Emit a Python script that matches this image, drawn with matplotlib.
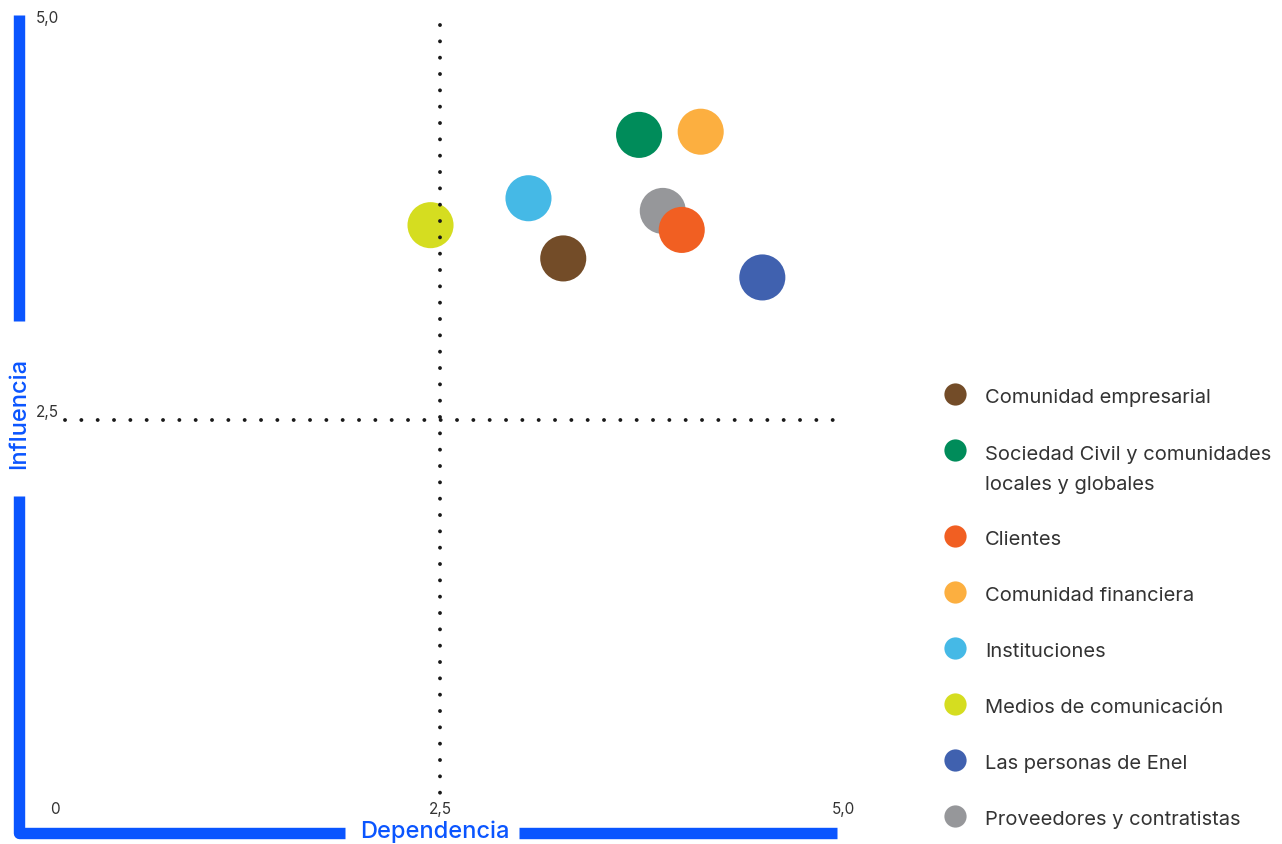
import matplotlib
matplotlib.use("Agg")
import matplotlib.pyplot as plt
import matplotlib.transforms as mtransforms
from matplotlib.lines import Line2D

# ---- data ----
categories = [
    "Comunidad empresarial",
    "Sociedad Civil y comunidades\nlocales y globales",
    "Clientes",
    "Comunidad financiera",
    "Instituciones",
    "Medios de comunicación",
    "Las personas de Enel",
    "Proveedores y contratistas",
]
dependencia = [3.28, 3.76, 4.03, 4.15, 3.06, 2.44, 4.54, 3.91]
influencia = [3.52, 4.30, 3.70, 4.32, 3.90, 3.73, 3.40, 3.82]
colors = ["#734C28", "#008C5A", "#F15F22", "#FCAF40", "#45B9E6", "#D5DD20", "#4061AF", "#96979A"]
draw_z = [3, 3, 3, 3, 3, 3, 3, 2]
x_ticks = [(0.06, "0"), (2.5, "2,5"), (5.05, "5,0")]
y_ticks = [(2.5, "2,5"), (5.0, "5,0")]

W, H = 1282, 845
FONT = ["Inter", "DejaVu Sans"]
BLUE = "#0A55FF"
TXT = "#333333"

fig = plt.figure(figsize=(W / 100, H / 100), dpi=100)
plt.rcParams["font.family"] = FONT


def fx(px):
    return px / W


def fy(py):
    return 1 - py / H


# main axes: x 0..5 -> px 45..835 ; y 0..5 -> py 817..25
ax = fig.add_axes([fx(45), fy(817), fx(835) - fx(45), fy(25) - fy(817)])
ax.set_xlim(0, 5)
ax.set_ylim(0, 5)
ax.axis("off")

for x, y, c, z in zip(dependencia, influencia, colors, draw_z):
    ax.scatter([x], [y], s=1100, color=c, edgecolors="none", zorder=z)

# dotted quadrant lines
dot_kw = dict(color="#1a1a1a", lw=2.8, linestyle=(0, (0.01, 4.19)),
              dash_capstyle="round", zorder=5, clip_on=False)
ax.plot([2.5, 2.5], [4.994, 0.13], **dot_kw)
ax.plot([0.127, 4.995], [2.5, 2.5], **dot_kw)

# tick labels (x along the bottom, y along the left)
xt = mtransforms.blended_transform_factory(ax.transData, fig.transFigure)
for v, s in x_ticks:
    ax.text(v, fy(810), s, ha="center", va="center", fontsize=11, color=TXT, transform=xt)
fig.text(fx(36), fy(413), y_ticks[0][1], ha="left", va="center", fontsize=11, color=TXT)
fig.text(fx(36), fy(18), y_ticks[1][1], ha="left", va="center", fontsize=11, color=TXT)

# blue axis bars
bar_kw = dict(color=BLUE, lw=8.2, solid_capstyle="butt", solid_joinstyle="round",
              transform=fig.transFigure)
fig.add_artist(Line2D([fx(19), fx(19)], [fy(16), fy(322)], **bar_kw))
fig.add_artist(Line2D([fx(19), fx(19), fx(345)], [fy(497), fy(834), fy(834)], **bar_kw))
fig.add_artist(Line2D([fx(519), fx(837)], [fy(834), fy(834)], **bar_kw))

fig.text(fx(19), fy(413), "Influencia", rotation=90, ha="center", va="center",
         fontsize=17, color=BLUE, fontweight="medium")
fig.text(fx(435), fy(832), "Dependencia", ha="center", va="center",
         fontsize=17, color=BLUE, fontweight="medium")

# legend
leg_y = [398, 454, 540, 596, 652, 708, 764, 820]
for yy, lab, c in zip(leg_y, categories, colors):
    fig.add_artist(Line2D([fx(955)], [fy(yy - 3)], marker="o", markersize=16,
                          color=c, markeredgewidth=0, transform=fig.transFigure))
    nlines = lab.count("\n")
    fig.text(fx(985), fy(yy + 15 * nlines + nlines), lab, ha="left", va="center",
             fontsize=14.5, color=TXT, linespacing=1.85)

fig.savefig("out.png", dpi=100, facecolor="white")
